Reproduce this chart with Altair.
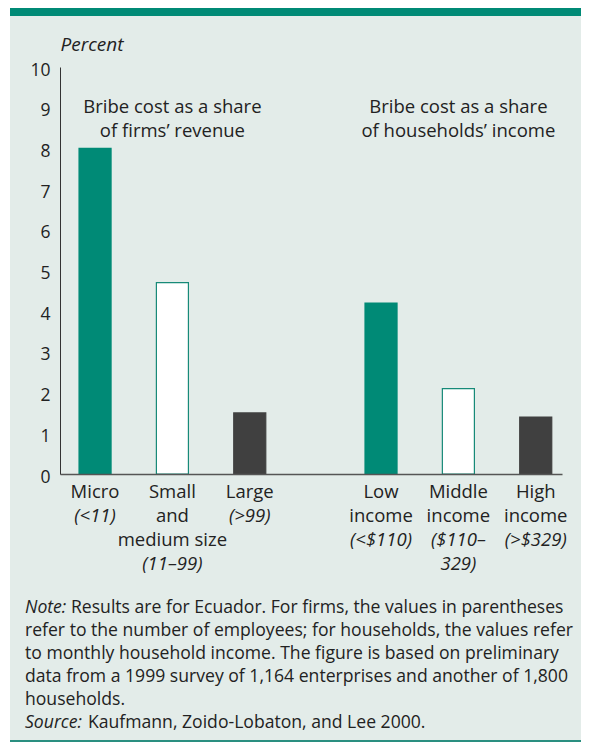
import altair as alt
import pandas as pd

# ---------------- data ----------------
groups = ["firms", "firms", "firms", "households", "households", "households"]
slots = [0, 1, 2, 0, 1, 2]
values = [8.0, 4.7, 1.5, 4.2, 2.1, 1.4]
kinds = ["solid", "open", "dark", "solid", "open", "dark"]
label_roman = ["Micro", "Small\nand\nmedium size", "Large",
               "Low\nincome", "Middle\nincome", "High\nincome"]
label_italic = ["(<11)", "(11–99)", "(>99)", "(<$110)", "($110–\n329)", "(>$329)"]
panel_groups = ["firms", "households"]
panel_titles = ["Bribe cost as a share\nof firms’ revenue",
                "Bribe cost as a share\nof households’ income"]
y_ticks = list(range(0, 11))
note_label = "Note:"
note_first = "Results are for Ecuador. For firms, the values in parentheses"
note_rest = ["refer to the number of employees; for households, the values refer",
             "to monthly household income. The figure is based on preliminary",
             "data from a 1999 survey of 1,164 enterprises and another of 1,800",
             "households."]
source_label = "Source:"
source_text = "Kaufmann, Zoido-Lobaton, and Lee 2000."

# ---------------- style ----------------
TEAL = "#008a76"
DARK = "#404040"
BG = "#e3ece9"
TEXT = "#222222"
FONT = "Open Sans"
W, H = 502, 407
CAT_Y = 431
CAT_LH = 24
LEFT, RIGHT = -50, 521
BOTTOM = 673

kind_domain = ["solid", "open", "dark"]
fill_range = [TEAL, "#ffffff", DARK]
stroke_range = [TEAL, "#178a78", DARK]

bars_df = pd.DataFrame({
    "group": groups, "slot": slots, "value": values, "kind": kinds,
    "roman": label_roman,
    "italic": label_italic,
    "start": [r.count("\n") + 1 for r in label_roman],
})
titles_df = pd.DataFrame({"group": panel_groups, "slot": [1, 1], "title": panel_titles})

x_enc = alt.X("group:N",
              scale=alt.Scale(domain=panel_groups, paddingInner=0.347,
                              paddingOuter=0.0512, align=0.65),
              axis=alt.Axis(labels=False, ticks=False, title=None, grid=False,
                            domain=True, domainColor="#555555", domainWidth=1.5,
                            zindex=1))
xoff = alt.XOffset("slot:O", scale=alt.Scale(domain=[0, 1, 2], paddingInner=0.586,
                                             paddingOuter=0))
y_enc = alt.Y("value:Q",
              scale=alt.Scale(domain=[0, 10], nice=False),
              axis=alt.Axis(values=y_ticks, ticks=False, grid=False,
                            domainColor="#333333", domainWidth=1,
                            labelFontSize=17.5, labelPadding=10, labelColor=TEXT,
                            labelFont=FONT, labelBaseline="middle", labelOffset=3,
                            labelOverlap=False, labelFlush=False,
                            title="Percent", titleAngle=0, titleX=0, titleY=-17,
                            titleAlign="left", titleBaseline="alphabetic",
                            titleFontStyle="italic", titleFontWeight="normal",
                            titleFontSize=19, titleColor=TEXT, titleFont=FONT,
                            zindex=1))

one = alt.Data(values=[{}])

bg = alt.Chart(one).mark_rect(color=BG).encode(
    x=alt.value(LEFT), x2=alt.value(RIGHT), y=alt.value(-51), y2=alt.value(BOTTOM))
top_band = alt.Chart(one).mark_rect(color=TEAL).encode(
    x=alt.value(LEFT), x2=alt.value(RIGHT), y=alt.value(-59), y2=alt.value(-51))
bottom_line = alt.Chart(one).mark_rect(color="#2a8f80").encode(
    x=alt.value(LEFT), x2=alt.value(RIGHT), y=alt.value(BOTTOM), y2=alt.value(BOTTOM + 2))

bars = alt.Chart(bars_df).mark_bar(strokeWidth=1.2).encode(
    x=x_enc, xOffset=xoff, y=y_enc,
    fill=alt.Fill("kind:N", scale=alt.Scale(domain=kind_domain, range=fill_range), legend=None),
    stroke=alt.Stroke("kind:N", scale=alt.Scale(domain=kind_domain, range=stroke_range), legend=None),
)

cat_roman = alt.Chart(bars_df).transform_calculate(
    lines="split(datum.roman, '\\n')"
).mark_text(font=FONT, fontSize=18.5, color=TEXT, baseline="alphabetic",
            align="center", lineHeight=CAT_LH).encode(
    x=x_enc, xOffset=xoff, y=alt.value(CAT_Y), text="lines:N")

italic_layers = []
for s in sorted(set(bars_df["start"])):
    italic_layers.append(
        alt.Chart(bars_df).transform_filter(
            alt.datum.start == s
        ).transform_calculate(
            lines="split(datum.italic, '\\n')"
        ).mark_text(font=FONT, fontSize=18.5, fontStyle="italic", color=TEXT,
                    baseline="alphabetic", align="center", lineHeight=CAT_LH).encode(
            x=x_enc, xOffset=xoff, y=alt.value(CAT_Y + CAT_LH * s), text="lines:N")
    )

titles = alt.Chart(titles_df).transform_calculate(
    lines="split(datum.title, '\\n')"
).mark_text(font=FONT, fontSize=18.5, color=TEXT, baseline="alphabetic",
            align="center", lineHeight=23.5).encode(
    x=x_enc, xOffset=xoff, y=alt.value(46), text="lines:N")

NOTE_X = -35
NOTE_Y = 546
NOTE_LH = 23
note_style = dict(font=FONT, fontSize=17.6, color=TEXT, baseline="alphabetic",
                  align="left", lineHeight=NOTE_LH)

note_it = alt.Chart(alt.Data(values=[{"t": note_label}])).mark_text(
    fontStyle="italic", **note_style).encode(
    x=alt.value(NOTE_X), y=alt.value(NOTE_Y), text="t:N")
note_l1 = alt.Chart(alt.Data(values=[{"t": note_first}])).mark_text(**note_style).encode(
    x=alt.value(NOTE_X + 46), y=alt.value(NOTE_Y), text="t:N")
note_body = alt.Chart(alt.Data(values=[{"t": "\n".join(note_rest)}])).transform_calculate(
    lines="split(datum.t, '\\n')"
).mark_text(**note_style).encode(
    x=alt.value(NOTE_X), y=alt.value(NOTE_Y + NOTE_LH), text="lines:N")
src_it = alt.Chart(alt.Data(values=[{"t": source_label}])).mark_text(
    fontStyle="italic", **note_style).encode(
    x=alt.value(NOTE_X), y=alt.value(NOTE_Y + 5 * NOTE_LH), text="t:N")
src_txt = alt.Chart(alt.Data(values=[{"t": source_text}])).mark_text(**note_style).encode(
    x=alt.value(NOTE_X + 63), y=alt.value(NOTE_Y + 5 * NOTE_LH), text="t:N")

chart = alt.layer(
    bg, top_band, bottom_line, bars, cat_roman, *italic_layers, titles,
    note_it, note_l1, note_body, src_it, src_txt
).properties(
    width=W, height=H,
    padding={"left": 2, "top": 0, "right": 0, "bottom": 0},
    background="white",
).configure_view(stroke=None)

chart.save("out.html", embed_options={"renderer": "svg", "actions": False})
